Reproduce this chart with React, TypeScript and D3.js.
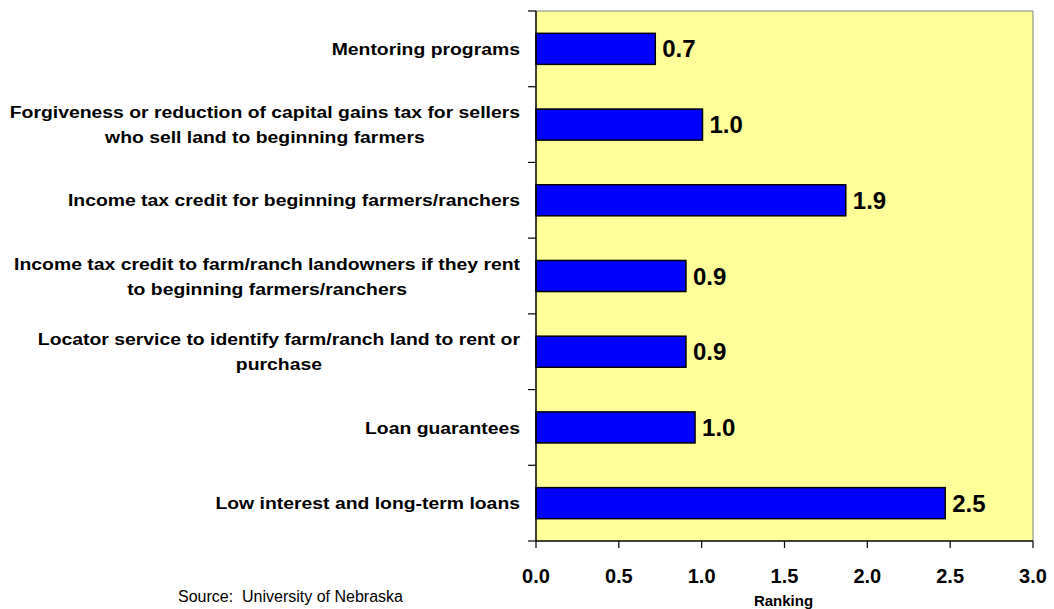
import React, { useEffect, useRef } from "react";
import * as d3 from "d3";

const categories: string[][] = [
  ["Mentoring programs"],
  ["Forgiveness or reduction of capital gains tax for sellers", "who sell land to beginning farmers"],
  ["Income tax credit for beginning farmers/ranchers"],
  ["Income tax credit to farm/ranch landowners if they rent", "to beginning farmers/ranchers"],
  ["Locator service to identify farm/ranch land to rent or", "purchase"],
  ["Loan guarantees"],
  ["Low interest and long-term loans"],
];
const values: number[] = [0.72, 1.005, 1.87, 0.905, 0.905, 0.96, 2.47];
const valueLabels: string[] = ["0.7", "1.0", "1.9", "0.9", "0.9", "1.0", "2.5"];
const xTicks: number[] = [0, 0.5, 1.0, 1.5, 2.0, 2.5, 3.0];
const xAxisTitle = "Ranking";
const sourceText = "Source:  University of Nebraska";

const W = 1054;
const H = 609;

export default function App() {
  const ref = useRef<SVGSVGElement | null>(null);

  useEffect(() => {
    const svg = d3.select(ref.current);
    svg.selectAll("*").remove();
    const left = 536;
    const top = 11;
    const right = 1033;
    const bottom = 541;
    const font = "Liberation Sans, Arial, sans-serif";

    const x = d3.scaleLinear().domain([0, 3]).range([left, right]);
    const y = d3
      .scaleBand<number>()
      .domain(d3.range(categories.length))
      .range([top, bottom])
      .paddingInner(0.59)
      .paddingOuter(0.295);
    const step = y.step();

    svg
      .append("rect")
      .attr("x", left)
      .attr("y", top)
      .attr("width", right - left)
      .attr("height", bottom - top)
      .attr("fill", "#FFFF99");
    svg
      .append("path")
      .attr("d", `M${left},${top}H${right}V${bottom}`)
      .attr("fill", "none")
      .attr("stroke", "#808080")
      .attr("stroke-width", 1);

    svg
      .selectAll("rect.bar")
      .data(values)
      .join("rect")
      .attr("class", "bar")
      .attr("x", left)
      .attr("y", (_, i) => y(i)!)
      .attr("width", (d) => x(d) - left)
      .attr("height", y.bandwidth())
      .attr("fill", "#0000FF")
      .attr("stroke", "#000")
      .attr("stroke-width", 1.5);

    svg
      .selectAll("text.val")
      .data(values)
      .join("text")
      .attr("class", "val")
      .attr("x", (d) => x(d) + 7)
      .attr("y", (_, i) => y(i)! + y.bandwidth() / 2)
      .attr("dy", "0.36em")
      .attr("font-family", font)
      .attr("font-weight", "bold")
      .attr("font-size", 24)
      .attr("fill", "#000")
      .text((_, i) => valueLabels[i]);

    svg
      .append("line")
      .attr("x1", left)
      .attr("x2", left)
      .attr("y1", top)
      .attr("y2", bottom)
      .attr("stroke", "#000")
      .attr("stroke-width", 1.5);
    svg
      .append("line")
      .attr("x1", left)
      .attr("x2", right)
      .attr("y1", bottom)
      .attr("y2", bottom)
      .attr("stroke", "#000")
      .attr("stroke-width", 1.5);

    const bounds = d3.range(categories.length + 1).map((i) => top + i * step);
    svg
      .selectAll("line.ytick")
      .data(bounds)
      .join("line")
      .attr("class", "ytick")
      .attr("x1", left - 8)
      .attr("x2", left)
      .attr("y1", (d) => d)
      .attr("y2", (d) => d)
      .attr("stroke", "#000")
      .attr("stroke-width", 1.2);

    svg
      .selectAll("line.xtick")
      .data(xTicks)
      .join("line")
      .attr("class", "xtick")
      .attr("x1", (d) => x(d))
      .attr("x2", (d) => x(d))
      .attr("y1", bottom)
      .attr("y2", bottom + 7)
      .attr("stroke", "#000")
      .attr("stroke-width", 1.2);
    svg
      .selectAll("text.xlab")
      .data(xTicks)
      .join("text")
      .attr("class", "xlab")
      .attr("x", (d) => x(d))
      .attr("y", 583)
      .attr("text-anchor", "middle")
      .attr("font-family", font)
      .attr("font-weight", "bold")
      .attr("font-size", 20)
      .text((d) => d3.format(".1f")(d));

    svg
      .append("text")
      .attr("x", (left + right) / 2 - 1)
      .attr("y", 606)
      .attr("text-anchor", "middle")
      .attr("font-family", font)
      .attr("font-weight", "bold")
      .attr("font-size", 15)
      .text(xAxisTitle);

    svg
      .append("text")
      .attr("x", 178)
      .attr("y", 602)
      .attr("font-family", font)
      .attr("font-size", 16)
      .style("white-space", "pre")
      .text(sourceText);

    const labelRight = 520;
    const lineH = 25;
    const sx = 1.14;
    categories.forEach((lines, i) => {
      const cy = y(i)! + y.bandwidth() / 2;
      const g = svg.append("g").attr("transform", `translate(${labelRight},0) scale(${sx},1)`);
      const texts = lines.map((ln, j) =>
        g
          .append("text")
          .attr("y", cy + (j - (lines.length - 1) / 2) * lineH)
          .attr("dy", "0.36em")
          .attr("text-anchor", "middle")
          .attr("font-family", font)
          .attr("font-weight", "bold")
          .attr("font-size", 17)
          .text(ln)
      );
      const widths = texts.map((t) => (t.node() as SVGTextElement).getComputedTextLength());
      const maxW = d3.max(widths) || 0;
      texts.forEach((t) => t.attr("x", -maxW / 2));
    });
  }, []);

  return (
    <svg
      ref={ref}
      width={W}
      height={H}
      style={{ position: "absolute", left: 0, top: 0, background: "#fff" }}
    />
  );
}
